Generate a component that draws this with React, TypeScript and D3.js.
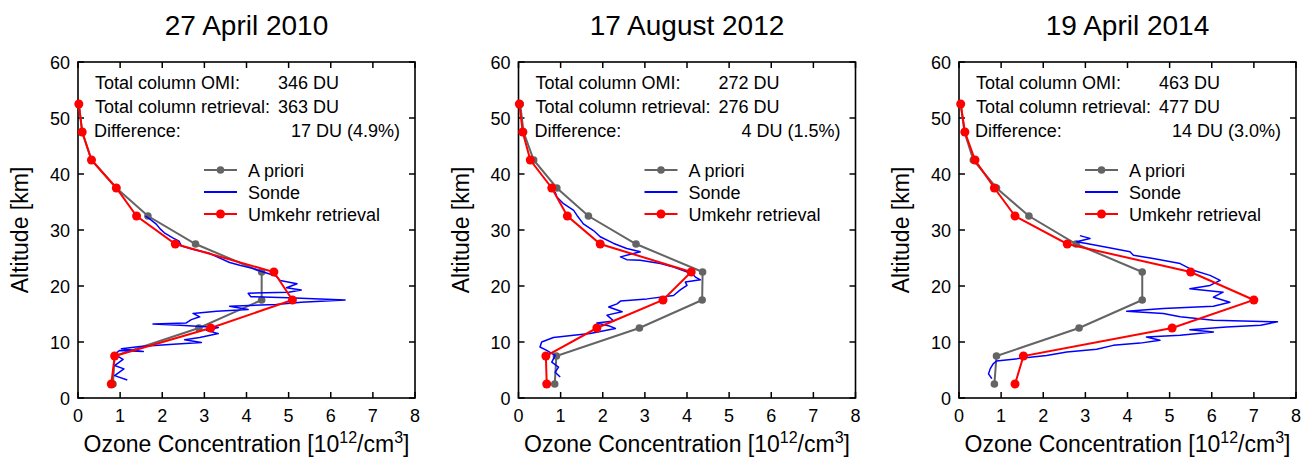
import React from "react";
import * as d3 from "d3";

const titles = ["27 April 2010", "17 August 2012", "19 April 2014"];
const altitudes = [2.5, 7.5, 12.5, 17.5, 22.5, 27.5, 32.5, 37.5, 42.5, 47.5, 52.5];

const apriori1 = [0.83, 0.87, 2.87, 4.36, 4.36, 2.79, 1.66, 0.91, 0.32, 0.1, 0.02];
const apriori2 = [0.86, 0.9, 2.87, 4.36, 4.37, 2.79, 1.66, 0.91, 0.36, 0.12, 0.04];
const apriori3 = [0.84, 0.89, 2.85, 4.35, 4.35, 2.78, 1.66, 0.89, 0.34, 0.13, 0.04];

const umkehr1 = [0.79, 0.87, 3.15, 5.09, 4.65, 2.31, 1.39, 0.91, 0.32, 0.1, 0.02];
const umkehr2 = [0.67, 0.65, 1.86, 3.43, 4.1, 1.94, 1.16, 0.79, 0.28, 0.1, 0.02];
const umkehr3 = [1.33, 1.53, 5.06, 7.0, 5.5, 2.57, 1.33, 0.84, 0.38, 0.14, 0.04];

// sonde profiles: [ozone, altitude]
const sonde1: [number, number][] = [
  [1.17, 3.2], [0.87, 4.0], [1.09, 5.2], [0.87, 5.8], [1.07, 6.9], [0.87, 7.8], [0.99, 8.5],
  [1.55, 8.3], [1.03, 8.8], [1.47, 9.2], [2.26, 9.6], [2.93, 9.9], [2.53, 10.4], [2.89, 10.8],
  [3.33, 11.5], [3.05, 12.1], [3.33, 12.6], [2.42, 13.0], [1.78, 13.2], [2.57, 13.4], [2.69, 14.0],
  [2.89, 14.5], [2.73, 15.1], [3.29, 15.5], [4.04, 15.8], [3.6, 16.4], [4.7, 16.7], [5.3, 17.1],
  [6.34, 17.5], [5.0, 17.9], [4.1, 18.1], [4.04, 18.7], [5.0, 18.9], [5.3, 19.3], [4.95, 19.7],
  [5.2, 20.4], [4.8, 21.0], [4.7, 21.8], [4.4, 22.5], [4.16, 23.1], [3.84, 23.7], [3.6, 24.2],
  [3.3, 25.2], [3.1, 25.9], [2.7, 26.6], [2.45, 27.2], [2.4, 28.0], [2.25, 28.6], [2.05, 29.5],
  [1.95, 30.2], [1.85, 31.1], [1.7, 32.0], [1.6, 32.5],
];
const sonde2: [number, number][] = [
  [0.99, 3.75], [0.87, 4.6], [0.95, 5.5], [0.79, 6.4], [0.87, 7.6], [0.67, 8.5], [0.51, 9.1],
  [0.55, 10.0], [0.83, 10.8], [1.31, 11.2], [1.7, 11.5], [2.3, 12.4], [2.18, 12.8], [1.86, 13.4],
  [2.26, 13.75], [2.1, 14.8], [2.46, 15.4], [2.14, 16.25], [2.34, 16.8], [2.42, 17.3], [3.05, 17.7],
  [3.68, 18.3], [3.84, 19.3], [4.0, 20.1], [3.96, 20.7], [4.32, 21.1], [4.2, 21.6], [4.12, 22.2],
  [3.68, 23.4], [3.37, 24.0], [2.89, 24.6], [2.57, 24.7], [2.42, 25.2], [2.89, 26.1], [2.57, 26.7],
  [2.26, 27.6], [1.94, 28.8], [1.78, 29.9], [1.54, 31.1], [1.39, 32.6], [1.31, 33.5], [1.07, 34.7],
  [0.91, 35.9], [0.87, 36.8],
];
const sonde3: [number, number][] = [
  [0.78, 3.45], [0.7, 4.3], [0.74, 5.2], [0.81, 6.1], [0.89, 6.6], [2.08, 7.6], [2.56, 8.2],
  [3.27, 8.7], [3.66, 9.4], [4.3, 9.8], [4.77, 10.3], [4.45, 10.9], [5.25, 11.2], [6.04, 11.8],
  [5.48, 12.2], [6.35, 12.7], [7.16, 13.0], [7.56, 13.6], [6.04, 13.9], [5.25, 14.5], [4.85, 15.1],
  [3.98, 15.5], [4.85, 16.0], [6.04, 16.4], [6.43, 17.1], [6.04, 18.0], [6.27, 18.9], [5.48, 19.5],
  [5.96, 20.1], [6.2, 21.0], [5.96, 21.9], [5.56, 22.8], [5.25, 24.0], [4.61, 24.9], [4.14, 25.5],
  [4.06, 26.1], [3.66, 26.7], [3.03, 27.6], [2.79, 27.9], [3.11, 28.5], [2.87, 29.0],
];

const omiValues = ["346 DU", "272 DU", "463 DU"];
const retrievalValues = ["363 DU", "276 DU", "477 DU"];
const differenceValues = ["17 DU (4.9%)", "4 DU (1.5%)", "14 DU (3.0%)"];

const xTicks = [0, 1, 2, 3, 4, 5, 6, 7, 8];
const yTicks = [0, 10, 20, 30, 40, 50, 60];

const aprioriSets = [apriori1, apriori2, apriori3];
const umkehrSets = [umkehr1, umkehr2, umkehr3];
const sondeSets = [sonde1, sonde2, sonde3];

const FONT = "'Liberation Sans', Arial, sans-serif";
const GRAY = "#646464";
const RED = "#ff0000";
const BLUE = "#0000ff";

const PLOT_W = 337;
const PLOT_TOP = 62;
const PLOT_BOTTOM = 398;
const TICK = 6;

function Panel({ index }: { index: number }) {
  const left = 78 + index * 440.5;
  const x = d3.scaleLinear().domain([0, 8]).range([left, left + PLOT_W]);
  const y = d3.scaleLinear().domain([0, 60]).range([PLOT_BOTTOM, PLOT_TOP]);
  const line = d3
    .line<[number, number]>()
    .x((d) => x(d[0]))
    .y((d) => y(d[1]));
  const apr: [number, number][] = aprioriSets[index].map((v, i) => [v, altitudes[i]]);
  const umk: [number, number][] = umkehrSets[index].map((v, i) => [v, altitudes[i]]);
  const cx = left + PLOT_W / 2;
  const right = left + PLOT_W;
  const legX = left + 126;
  const legRows = [170, 192, 214];

  return (
    <g fontFamily={FONT}>
      <text x={cx} y={35} textAnchor="middle" fontSize={28}>
        {titles[index]}
      </text>
      <rect x={left} y={PLOT_TOP} width={PLOT_W} height={PLOT_BOTTOM - PLOT_TOP} fill="none" stroke="#000" strokeWidth={1.6} />
      {xTicks.map((t) => (
        <g key={"xt" + t}>
          <line x1={x(t)} x2={x(t)} y1={PLOT_BOTTOM} y2={PLOT_BOTTOM - TICK} stroke="#000" strokeWidth={1.5} />
          <line x1={x(t)} x2={x(t)} y1={PLOT_TOP} y2={PLOT_TOP + TICK} stroke="#000" strokeWidth={1.5} />
          <text x={x(t)} y={422} textAnchor="middle" fontSize={18}>
            {t}
          </text>
        </g>
      ))}
      {yTicks.map((t) => (
        <g key={"yt" + t}>
          <line x1={left} x2={left + TICK} y1={y(t)} y2={y(t)} stroke="#000" strokeWidth={1.5} />
          <line x1={right} x2={right - TICK} y1={y(t)} y2={y(t)} stroke="#000" strokeWidth={1.5} />
          <text x={left - 8} y={y(t) + 6.5} textAnchor="end" fontSize={18}>
            {t}
          </text>
        </g>
      ))}
      <text x={cx} y={452} textAnchor="middle" fontSize={23}>
        Ozone Concentration [10
        <tspan fontSize={16} dy={-9}>12</tspan>
        <tspan dy={9}>/cm</tspan>
        <tspan fontSize={16} dy={-9}>3</tspan>
        <tspan dy={9}>]</tspan>
      </text>
      <text transform={`translate(${left - 50},230) rotate(-90)`} textAnchor="middle" fontSize={23}>
        Altitude [km]
      </text>
      <g fontSize={18}>
        <text x={left + 17} y={89}>Total column OMI:</text>
        <text x={left + 200} y={89}>{omiValues[index]}</text>
        <text x={left + 17} y={113}>Total column retrieval:</text>
        <text x={left + 200} y={113}>{retrievalValues[index]}</text>
        <text x={left + 16} y={137}>Difference:</text>
        <text x={left + 322} y={137} textAnchor="end">{differenceValues[index]}</text>
      </g>
      <path d={line(apr) ?? ""} fill="none" stroke={GRAY} strokeWidth={2} />
      {apr.map((d, i) => (
        <circle key={"a" + i} cx={x(d[0])} cy={y(d[1])} r={3.8} fill={GRAY} />
      ))}
      <path d={line(sondeSets[index]) ?? ""} fill="none" stroke={BLUE} strokeWidth={1.5} strokeLinejoin="round" />
      <path d={line(umk) ?? ""} fill="none" stroke={RED} strokeWidth={2} />
      {umk.map((d, i) => (
        <circle key={"u" + i} cx={x(d[0])} cy={y(d[1])} r={4.5} fill={RED} />
      ))}
      <g fontSize={18}>
        <line x1={legX} x2={legX + 33} y1={legRows[0]} y2={legRows[0]} stroke={GRAY} strokeWidth={2} />
        <circle cx={legX + 16.5} cy={legRows[0]} r={3.8} fill={GRAY} />
        <text x={legX + 44} y={legRows[0] + 6.5}>A priori</text>
        <line x1={legX} x2={legX + 33} y1={legRows[1]} y2={legRows[1]} stroke={BLUE} strokeWidth={2} />
        <text x={legX + 44} y={legRows[1] + 6.5}>Sonde</text>
        <line x1={legX} x2={legX + 33} y1={legRows[2]} y2={legRows[2]} stroke={RED} strokeWidth={2} />
        <circle cx={legX + 16.5} cy={legRows[2]} r={4.5} fill={RED} />
        <text x={legX + 44} y={legRows[2] + 6.5}>Umkehr retrieval</text>
      </g>
    </g>
  );
}

export default function App() {
  return (
    <svg
      width={1308}
      height={458}
      style={{ position: "absolute", left: 0, top: 0, background: "#fff" }}
    >
      <rect x={0} y={0} width={1308} height={458} fill="#fff" />
      {[0, 1, 2].map((i) => (
        <Panel key={i} index={i} />
      ))}
    </svg>
  );
}
